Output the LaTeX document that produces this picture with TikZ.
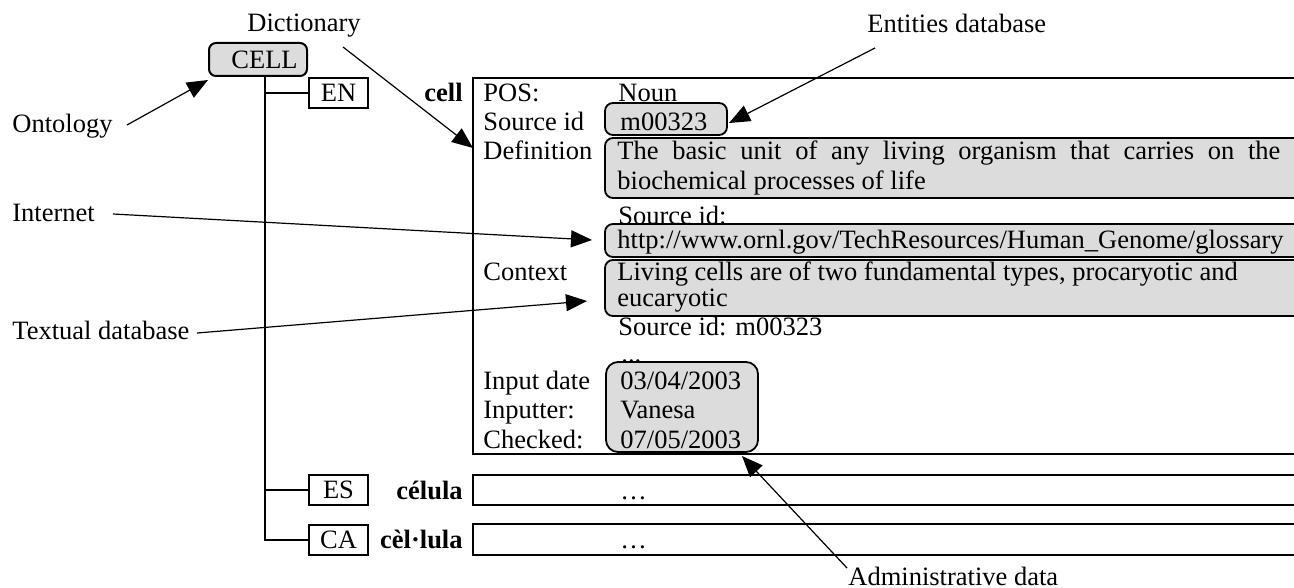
\documentclass[tikz,border=0pt]{standalone}
\usepackage{fontspec}
\setmainfont{Liberation Serif}
\usetikzlibrary{arrows.meta}
\definecolor{boxgray}{HTML}{DCDCDC}
\begin{document}
\begin{tikzpicture}[x=0.5pt,y=-0.5pt,
  font=\fontsize{13.25}{14.4}\selectfont,
  txt/.style={inner sep=0, anchor=base west},
  txte/.style={inner sep=0, anchor=base east, font=\fontsize{13.25}{14.4}\selectfont\bfseries},
  langbox/.style={draw, line width=1pt, minimum width=29.5pt, minimum height=15pt, inner sep=0},
  cellbox/.style={draw, fill=boxgray, line width=1pt, rounded corners=3.5pt, minimum width=49pt, minimum height=16.5pt, inner sep=0},
  graybox/.style={draw, fill=boxgray, line width=0.9pt, inner sep=0},
  frame/.style={draw, line width=1pt},
  tree/.style={draw, line width=1pt},
  ptr/.style={line width=0.6pt, -{Triangle[length=10.5pt,width=8.5pt]}}]
\useasboundingbox (0,0) rectangle (1294,588);

% ---- gray value boxes ----
\node[graybox, rounded corners=4pt, minimum width=61pt, minimum height=16pt] (mbox) at (666,119) {};
\path[graybox, rounded corners=4pt] (1294,138) -- (605,138) -- (605,198) -- (1294,198);
\path[graybox, rounded corners=4pt] (1294,224) -- (605,224) -- (605,257) -- (1294,257);
\path[graybox, rounded corners=4pt] (1294,260) -- (605,260) -- (605,316) -- (1294,316);
\node[graybox, rounded corners=6pt, minimum width=76pt, minimum height=45pt] (abox) at (682,407) {};

% ---- entry frames (open at the right edge) ----
\coordinate (fTL) at (473,78);
\coordinate (fBL) at (473,454);
\path[frame] (1294,78) -- (fTL) -- (fBL) -- (1294,454);
\path[frame] (1294,474.5) -- (473,474.5) -- (473,505) -- (1294,505);
\path[frame] (1294,524) -- (473,524) -- (473,555) -- (1294,555);

% ---- tree ----
\node[cellbox] (cellb) at (258,59.5) {\hspace*{6.5pt}\raisebox{-1.5pt}{CELL}};
\node[langbox] (en) at (338.5,93) {EN};
\node[langbox] (es) at (338.5,489.5) {ES};
\node[langbox] (ca) at (338.5,539.5) {CA};
\coordinate (tTop) at (265,76);
\draw[tree] (tTop) |- (ca.west);
\draw[tree] (en.west -| tTop) -- (en.west);
\draw[tree] (es.west -| tTop) -- (es.west);

% ---- headwords ----
\node[txte] (hw1) at (463,102) {cell};
\node[txte] (hw2) at (463,499) {célula};
\node[txte] (hw3) at (463,548) {cèl·lula};

% ---- field labels ----
\node[txt] (l1) at (483,102) {POS:};
\node[txt] (l2) at (483,131) {Source id};
\node[txt] (l3) at (483,160) {Definition};
\node[txt] (l4) at (483,280) {Context};
\node[txt] (l5) at (483,389) {Input date};
\node[txt] (l6) at (483,418) {Inputter:};
\node[txt] (l7) at (483,448) {Checked:};

% ---- values ----
\node[txt] (v1) at (618,102) {Noun};
\node[txt] (v2) at (620,131) {m00323};
\node[txt] (v3) at (617,160) {\makebox[331.5pt][s]{The basic unit of any living organism that carries on the}};
\node[txt] (v3b) at (617,190) {biochemical processes of life};
\node[txt] (v4) at (618,225) {Source id:};
\node[txt] (v5) at (617,249) {http://www.ornl.gov/TechResources/Human\_Genome/glossary};
\node[txt] (v6) at (617,280) {Living cells are of two fundamental types, procaryotic and};
\node[txt] (v6b) at (617,306) {eucaryotic};
\node[txt] (v7) at (618,335) {Source id: m00323};
\node[txt] (v8) at (621,362) {...};
\node[txt] (v9) at (620,389) {03/04/2003};
\node[txt] (v10) at (620,418) {Vanesa};
\node[txt] (v11) at (620,448) {07/05/2003};
\node[txt] (d1) at (620,499) {…};
\node[txt] (d2) at (620,548) {…};

% ---- callout labels ----
\node[txt] (dict) at (247,32) {Dictionary};
\node[txt] (ent) at (867,33) {Entities database};
\node[txt] (onto) at (12,133) {Ontology};
\node[txt] (inet) at (12,221) {Internet};
\node[txt] (textdb) at (12,339) {Textual database};
\node[txt] (adm) at (848,585) {Administrative data};

% ---- callout arrows ----
\coordinate (ontoS) at (127,125);  \coordinate (ontoT) at (208,80);
\coordinate (dictS) at (343,47);   \coordinate (dictT) at (473,148);
\coordinate (entS) at (875,48);    \coordinate (entT) at (729,123);
\coordinate (inetS) at (113,214);  \coordinate (inetT) at (592,240);
\coordinate (txtS) at (197,333);   \coordinate (txtT) at (587,301);
\coordinate (admS) at (847,568);   \coordinate (admT) at (742,456);
\draw[ptr] (ontoS) -- (ontoT);
\draw[ptr] (dictS) -- (dictT);
\draw[ptr] (entS) -- (entT);
\draw[ptr] (inetS) -- (inetT);
\draw[ptr] (txtS) -- (txtT);
\draw[ptr] (admS) -- (admT);
\end{tikzpicture}
\end{document}
